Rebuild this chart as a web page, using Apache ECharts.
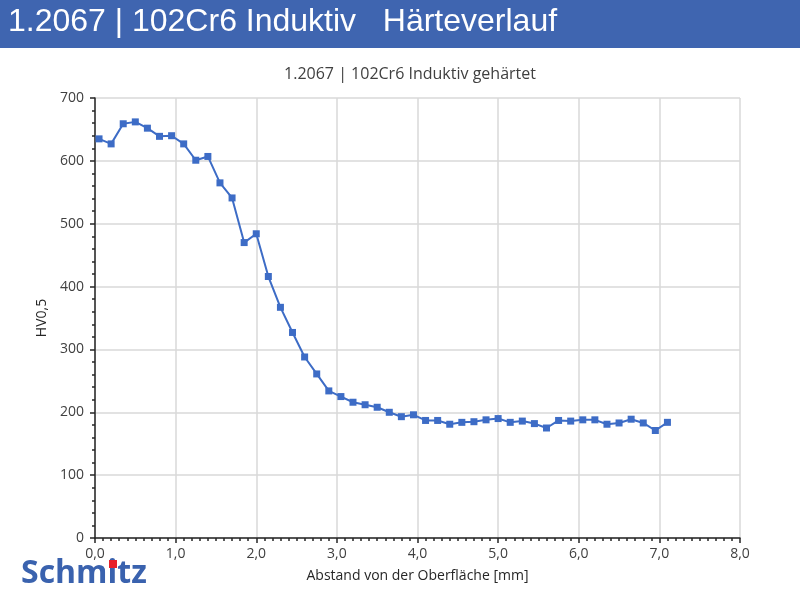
<!DOCTYPE html>
<html>
<head>
<meta charset="utf-8">
<title>1.2067 | 102Cr6 Induktiv Härteverlauf</title>
<script src="https://cdn.jsdelivr.net/npm/echarts@6/dist/echarts.min.js"></script>
<style>
  html, body { margin: 0; padding: 0; background: #fff; }
  #chart { width: 800px; height: 600px; }
</style>
</head>
<body>
<div id="chart"></div>
<script>
// Abstand von der Oberfläche [mm]
const distance = [
  0.05, 0.20, 0.35, 0.50, 0.65, 0.80, 0.95, 1.10, 1.25, 1.40,
  1.55, 1.70, 1.85, 2.00, 2.15, 2.30, 2.45, 2.60, 2.75, 2.90,
  3.05, 3.20, 3.35, 3.50, 3.65, 3.80, 3.95, 4.10, 4.25, 4.40,
  4.55, 4.70, 4.85, 5.00, 5.15, 5.30, 5.45, 5.60, 5.75, 5.90,
  6.05, 6.20, 6.35, 6.50, 6.65, 6.80, 6.95, 7.10
];
// Härte HV0,5
const hardness = [
  635, 627, 659, 662, 652, 639, 640, 627, 601, 607,
  565, 541, 470, 484, 416, 367, 327, 288, 261, 234,
  225, 216, 212, 208, 200, 193, 196, 187, 187, 181,
  184, 185, 188, 190, 184, 186, 182, 175, 187, 186,
  188, 188, 181, 183, 189, 183, 171, 184
];

const headerText = '1.2067 | 102Cr6 Induktiv   Härteverlauf';
const chartTitle = '1.2067 | 102Cr6 Induktiv gehärtet';
const xName = 'Abstand von der Oberfläche [mm]';
const yName = 'HV0,5';

const chart = echarts.init(document.getElementById('chart'));

const fmt = (v) => v.toFixed(1).replace('.', ',');

const option = {
  animation: false,
  textStyle: { fontFamily: 'Open Sans' },
  title: {
    text: chartTitle,
    left: 405,
    textAlign: 'center',
    top: 61,
    textStyle: { fontSize: 16, fontWeight: 'normal', color: '#404040', fontFamily: 'Open Sans' },
  },
  grid: {
    left: 95,
    right: 60,
    top: 98,
    bottom: 62,
  },
  xAxis: {
    type: 'value',
    min: 0,
    max: 8,
    interval: 1,
    name: xName,
    nameLocation: 'middle',
    nameGap: 31,
    nameTextStyle: { fontSize: 14, color: '#262626' },
    axisLine: { lineStyle: { color: '#262626', width: 1.5 } },
    axisTick: { length: 5, lineStyle: { color: '#262626', width: 1.5 } },
    minorTick: { show: true, splitNumber: 10, length: 3, lineStyle: { color: '#262626', width: 1.5 } },
    axisLabel: { formatter: fmt, fontSize: 14, color: '#404040', margin: 9 },
    splitLine: { show: true, lineStyle: { color: '#d9d9d9', width: 1.5 } },
  },
  yAxis: {
    type: 'value',
    min: 0,
    max: 700,
    interval: 100,
    name: yName,
    nameLocation: 'middle',
    nameGap: 35,
    nameTextStyle: { fontSize: 14, color: '#262626' },
    axisLine: { show: true, lineStyle: { color: '#262626', width: 1.5 } },
    axisTick: { show: true, length: 5, lineStyle: { color: '#262626', width: 1.5 } },
    minorTick: { show: true, splitNumber: 5, length: 3, lineStyle: { color: '#262626', width: 1.5 } },
    axisLabel: { fontSize: 14, color: '#404040', margin: 11 },
    splitLine: { show: true, lineStyle: { color: '#d9d9d9', width: 1.5 } },
  },
  graphic: [
    {
      type: 'rect',
      left: 0,
      top: 0,
      shape: { width: 800, height: 48 },
      style: { fill: '#3f65b0' },
    },
    {
      type: 'text',
      left: 8,
      top: 6,
      style: {
        text: headerText,
        fill: '#ffffff',
        font: '32px "Liberation Sans Narrow", "Liberation Sans", Arial, sans-serif',
      },
    },
    {
      type: 'text',
      left: 21,
      top: 558,
      style: {
        text: 'Schmitz',
        fill: '#3a62ae',
        font: 'bold 32px "Open Sans", sans-serif',
      },
    },
    {
      type: 'rect',
      left: 109,
      top: 560,
      shape: { width: 8, height: 8 },
      style: { fill: '#e8202a' },
    },
  ],
  series: [
    {
      type: 'line',
      data: distance.map((d, i) => [d, hardness[i]]),
      symbol: 'rect',
      symbolSize: 7,
      lineStyle: { color: '#3d6cc6', width: 2 },
      itemStyle: { color: '#3d6cc6' },
    },
  ],
};

chart.setOption(option);
</script>
</body>
</html>
